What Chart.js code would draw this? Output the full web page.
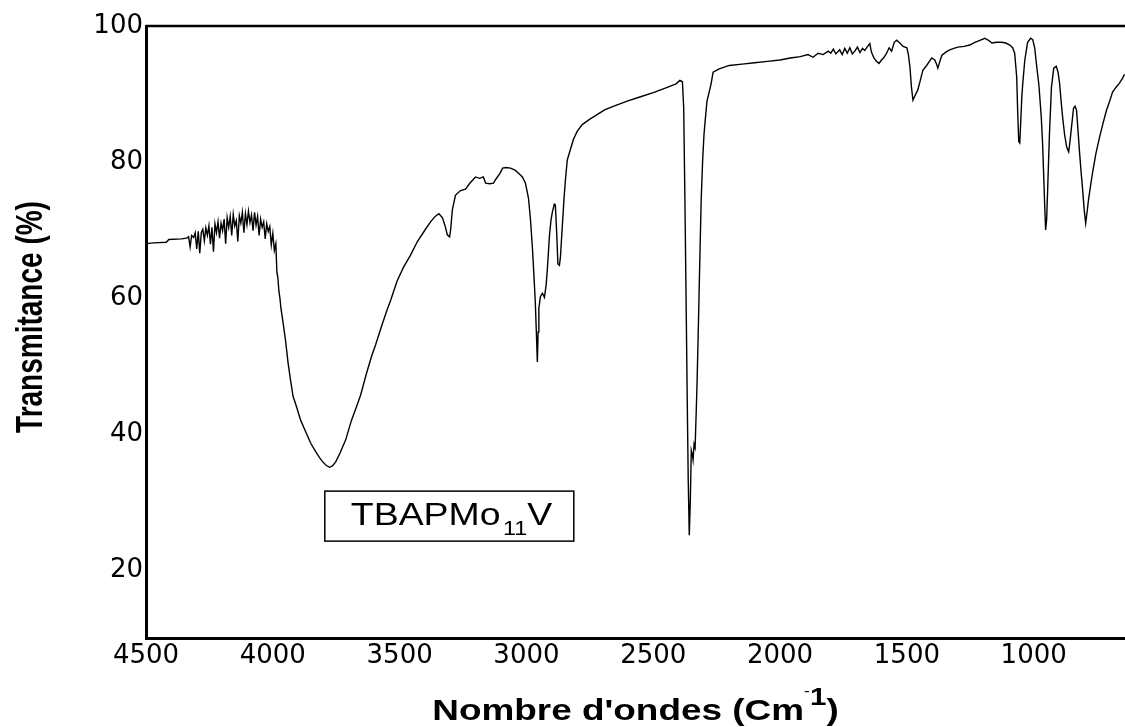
<!DOCTYPE html>
<html>
<head>
<meta charset="utf-8">
<script src="https://cdn.jsdelivr.net/npm/chart.js@4"></script>
<style>
  html, body { margin: 0; padding: 0; background: #fff; }
  canvas { display: block; }
</style>
</head>
<body>
<canvas id="irChart" width="1125" height="727"></canvas>
<script>
'use strict';

// IR spectrum (cm-1 / %T)
const wavenumbers = [
  4500, 4470, 4420, 4410, 4360, 4340, 4332, 4326, 4320, 4312, 4306, 4300, 4294, 4288, 4282,
  4276, 4270, 4264, 4258, 4252, 4246, 4240, 4234, 4228, 4222, 4216, 4210, 4204, 4198, 4192,
  4186, 4180, 4174, 4168, 4162, 4156, 4150, 4144, 4138, 4132, 4126, 4120, 4114, 4108, 4102,
  4096, 4090, 4084, 4078, 4072, 4066, 4060, 4054, 4048, 4042, 4036, 4030, 4024, 4018, 4012,
  4006, 4000, 3994, 3988, 3984, 3980, 3976, 3972, 3968, 3960, 3950, 3940, 3930, 3920, 3909,
  3890, 3870, 3850, 3831, 3815, 3803, 3790, 3776, 3765, 3752, 3735, 3713, 3690, 3670, 3654,
  3630, 3610, 3595, 3570, 3550, 3535, 3510, 3485, 3457, 3430, 3400, 3378, 3360, 3345, 3331,
  3320, 3312, 3303, 3299, 3292, 3280, 3260, 3240, 3225, 3201, 3185, 3170, 3161, 3145, 3130,
  3120, 3105, 3094, 3080, 3063, 3045, 3030, 3016, 3004, 2992, 2984, 2976, 2970, 2965, 2960,
  2957, 2954, 2951, 2945, 2937, 2929, 2922, 2917, 2909, 2903, 2898, 2890, 2886, 2880, 2876,
  2870, 2866, 2860, 2852, 2846, 2839, 2827, 2815, 2800, 2780, 2750, 2720, 2690, 2650, 2600,
  2550, 2500, 2450, 2410, 2395, 2385, 2380, 2375, 2370, 2366, 2362, 2358, 2354, 2350, 2346,
  2343, 2339, 2335, 2330, 2327, 2322, 2319, 2315, 2311, 2305, 2300, 2295, 2288, 2280, 2272,
  2264, 2240, 2200, 2150, 2100, 2050, 2000, 1960, 1920, 1890, 1870, 1850, 1830, 1810, 1800,
  1790, 1780, 1765, 1755, 1745, 1735, 1725, 1715, 1705, 1695, 1685, 1675, 1666, 1655, 1646,
  1640, 1630, 1620, 1610, 1600, 1590, 1580, 1570, 1560, 1550, 1540, 1528, 1515, 1500, 1494,
  1488, 1482, 1476, 1470, 1457, 1447, 1437, 1420, 1402, 1390, 1384, 1378, 1370, 1362, 1345,
  1331, 1315, 1299, 1275, 1252, 1232, 1212, 1193, 1178, 1165, 1145, 1126, 1110, 1094, 1083,
  1075, 1067, 1063, 1059, 1055, 1051, 1047, 1043, 1035, 1024, 1012, 1004, 996, 988, 980,
  976, 970, 965, 961, 957, 953, 949, 945, 938, 930, 921, 911, 904, 898, 892,
  886, 878, 870, 862, 857, 851, 843, 837, 831, 825, 819, 813, 807, 801, 795,
  790, 784, 776, 768, 755, 740, 726, 713, 700, 689, 675, 662, 650, 642
];

const transmittance = [
  68.0, 68.1, 68.2, 68.6, 68.7, 68.8, 69.0, 67.5, 69.2, 68.9, 69.6, 67.2, 69.8, 66.6, 69.6,
  70.1, 68.4, 70.3, 69.2, 70.6, 67.9, 70.4, 66.8, 70.9, 69.6, 71.2, 68.8, 71.0, 69.9, 71.6,
  68.0, 71.8, 70.4, 72.0, 69.2, 72.3, 70.6, 71.4, 68.3, 72.1, 71.0, 72.6, 69.6, 72.4, 70.8,
  72.8, 71.1, 72.2, 69.9, 72.6, 70.7, 72.0, 69.2, 71.6, 70.4, 71.2, 68.7, 70.9, 69.8, 70.5,
  67.8, 69.5, 67.0, 68.0, 63.8, 63.0, 61.0, 60.0, 58.5, 56.5, 53.8, 50.5, 47.9, 45.5, 44.3,
  42.0, 40.3, 38.6, 37.4, 36.5, 35.9, 35.4, 35.1, 35.3, 35.9, 37.2, 39.1, 42.0, 44.0, 45.7,
  49.0, 51.5, 53.1, 56.0, 58.2, 59.7, 62.5, 64.5, 66.3, 68.3, 70.0, 71.2, 72.0, 72.4, 71.8,
  70.5, 69.3, 69.0, 70.0, 73.0, 75.1, 75.8, 76.0, 76.8, 77.8, 77.6, 77.8, 76.9, 76.8, 76.9,
  77.5, 78.3, 79.1, 79.2, 79.1, 78.8, 78.3, 77.8, 76.9, 74.7, 71.5, 67.1, 63.0, 59.3, 54.0,
  50.6, 55.0, 58.5, 60.2, 60.7, 60.1, 62.0, 64.6, 69.3, 71.5, 72.6, 73.8, 73.7, 69.0, 65.0,
  64.8, 66.0, 69.7, 74.5, 77.5, 80.3, 81.8, 83.3, 84.5, 85.5, 86.3, 87.0, 87.7, 88.3, 89.0,
  89.6, 90.2, 90.9, 91.5, 92.0, 91.8, 88.0, 74.0, 58.0, 45.0, 33.0, 25.1, 30.0, 37.6, 37.0,
  36.2, 38.5, 38.0, 44.0, 47.9, 56.0, 61.2, 68.0, 74.4, 80.5, 84.0, 86.2, 89.0, 90.2, 91.5,
  93.2, 93.7, 94.2, 94.4, 94.6, 94.8, 95.0, 95.3, 95.5, 95.8, 95.4, 96.0, 95.8, 96.3, 96.0,
  96.6, 95.9, 96.5, 95.8, 96.7, 96.0, 96.8, 95.9, 96.3, 96.9, 96.1, 96.7, 96.4, 97.0, 97.4,
  96.2, 95.3, 94.8, 94.5, 95.0, 95.4, 96.0, 96.8, 96.3, 97.6, 97.9, 97.5, 97.0, 96.8, 95.8,
  94.0, 91.0, 89.1, 89.6, 90.6, 92.0, 93.5, 94.3, 95.3, 95.0, 94.5, 93.8, 94.8, 95.7, 96.2,
  96.5, 96.7, 96.9, 97.0, 97.2, 97.6, 97.9, 98.2, 97.9, 97.5, 97.6, 97.6, 97.5, 97.2, 96.8,
  96.0, 92.5, 87.2, 83.0, 82.8, 86.0, 89.5, 91.6, 95.0, 97.6, 98.2, 98.0, 96.8, 94.0, 91.5,
  89.6, 86.5, 82.8, 78.5, 74.0, 70.0, 71.5, 75.9, 84.0, 91.0, 93.8, 94.1, 93.2, 91.6, 89.0,
  86.6, 84.0, 82.2, 81.5, 83.0, 85.1, 87.9, 88.2, 87.6, 84.5, 81.3, 78.5, 75.9, 73.0, 71.0,
  72.5, 74.4, 76.5, 78.4, 81.2, 83.7, 85.8, 87.6, 89.0, 90.3, 91.0, 91.6, 92.3, 92.9
];

const xTicks = [4500, 4000, 3500, 3000, 2500, 2000, 1500, 1000];
const yTicks = [20, 40, 60, 80, 100];

const xTitle = "Nombre d'ondes (Cm";
const yTitle = 'Transmitance (%)';
const sampleName = ['TBAPMo', '11', 'V'];
const sampleAnchor = { x: 3795, y: 31.6 };

const decorations = {
  id: 'decorations',
  afterDraw(chart) {
    const ctx = chart.ctx;
    const area = chart.chartArea;
    const sx = chart.scales.x;
    const sy = chart.scales.y;
    ctx.save();
    ctx.fillStyle = '#000';
    ctx.strokeStyle = '#000';

    // top frame
    ctx.lineWidth = 2.5;
    ctx.beginPath();
    ctx.moveTo(area.left, area.top);
    ctx.lineTo(area.right, area.top);
    ctx.stroke();

    // sample label box
    let bx = sx.getPixelForValue(sampleAnchor.x);
    let by = sy.getPixelForValue(sampleAnchor.y);
    ctx.lineWidth = 1.5;
    ctx.strokeRect(bx, by, 249, 50);
    ctx.textBaseline = 'alphabetic';
    ctx.textAlign = 'left';
    ctx.save();
    ctx.translate(bx + 26, by + 34);
    ctx.scale(1.17, 1);
    ctx.font = '32px "Liberation Sans", Arial, sans-serif';
    ctx.fillText(sampleName[0], 0, 0);
    let w0 = ctx.measureText(sampleName[0]).width;
    ctx.font = '20px "Liberation Sans", Arial, sans-serif';
    ctx.fillText(sampleName[1], w0 + 2, 10);
    let w1 = ctx.measureText(sampleName[1]).width;
    ctx.font = '32px "Liberation Sans", Arial, sans-serif';
    ctx.fillText(sampleName[2], w0 + w1 + 2, 0);
    ctx.restore();

    // x axis title with superscript
    ctx.save();
    let cx = (area.left + area.right) / 2;
    ctx.translate(cx, 720);
    ctx.scale(1.23, 1);
    ctx.font = 'bold 30px "Liberation Sans", Arial, sans-serif';
    let tw = ctx.measureText(xTitle).width;
    ctx.font = 'bold 22px "Liberation Sans", Arial, sans-serif';
    let supW = ctx.measureText('1').width + 6;
    ctx.font = 'bold 30px "Liberation Sans", Arial, sans-serif';
    let pw = ctx.measureText(')').width;
    let start = -(tw + supW + pw) / 2;
    ctx.fillText(xTitle, start, 0);
    ctx.font = '14px "Liberation Sans", Arial, sans-serif';
    ctx.fillText('-', start + tw, -24);
    ctx.font = 'bold 24px "Liberation Sans", Arial, sans-serif';
    ctx.fillText('1', start + tw + 5, -15);
    ctx.font = 'bold 30px "Liberation Sans", Arial, sans-serif';
    ctx.fillText(')', start + tw + supW, 0);
    ctx.restore();

    // y axis title
    ctx.save();
    ctx.translate(42, 317);
    ctx.rotate(-Math.PI / 2);
    ctx.scale(1, 1.3);
    ctx.textAlign = 'center';
    ctx.font = 'bold 28px "Liberation Sans", Arial, sans-serif';
    ctx.fillText(yTitle, 0, 0);
    ctx.restore();

    ctx.restore();
  }
};

new Chart(document.getElementById('irChart'), {
  type: 'line',
  data: {
    datasets: [{
      data: wavenumbers.map((w, i) => ({ x: w, y: transmittance[i] })),
      borderColor: '#000',
      borderWidth: 1.4,
      pointRadius: 0,
      tension: 0,
      fill: false
    }]
  },
  options: {
    responsive: false,
    animation: false,
    layout: { padding: { top: 26, right: 0, bottom: 0, left: 0 } },
    plugins: {
      legend: { display: false },
      tooltip: { enabled: false }
    },
    scales: {
      x: {
        type: 'linear',
        reverse: true,
        min: 640,
        max: 4500,
        afterFit: (scale) => { scale.height = 89; },
        afterBuildTicks: (scale) => { scale.ticks = xTicks.map(v => ({ value: v })); },
        grid: { display: false, drawTicks: false },
        border: { display: true, width: 3, color: '#000' },
        ticks: {
          padding: 3,
          maxRotation: 0,
          autoSkip: false,
          color: '#000',
          font: { family: '"DejaVu Sans"', size: 26 },
          callback: (v) => String(v)
        }
      },
      y: {
        type: 'linear',
        min: 10,
        max: 100,
        afterFit: (scale) => { scale.width = 146; },
        afterBuildTicks: (scale) => { scale.ticks = yTicks.map(v => ({ value: v })); },
        grid: { display: false, drawTicks: false },
        border: { display: true, width: 3, color: '#000' },
        ticks: {
          padding: 3,
          autoSkip: false,
          color: '#000',
          font: { family: '"DejaVu Sans"', size: 26 },
          callback: (v) => String(v)
        }
      }
    }
  },
  plugins: [decorations]
});
</script>
</body>
</html>
